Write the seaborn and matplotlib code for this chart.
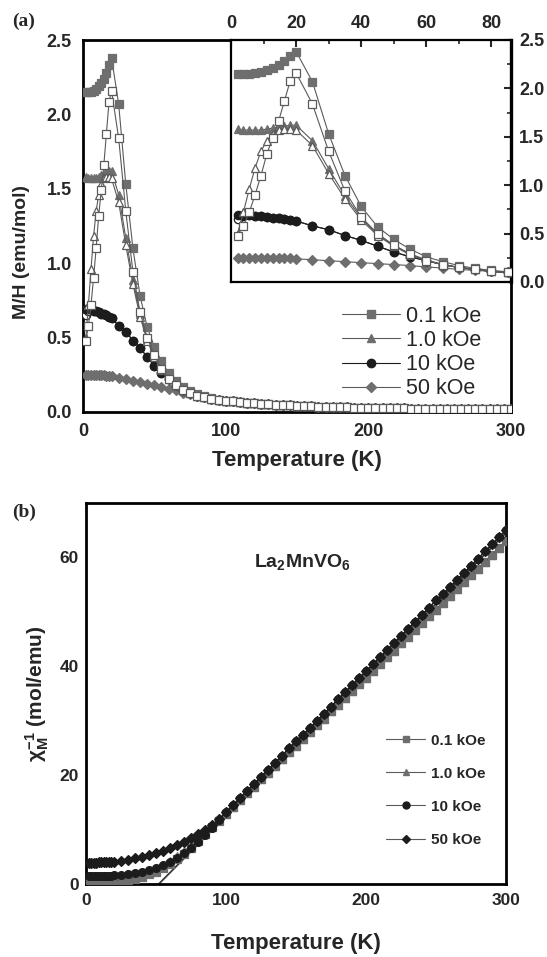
import matplotlib
matplotlib.use("Agg")
import matplotlib.pyplot as plt
from matplotlib.lines import Line2D
from matplotlib.ticker import MultipleLocator
import seaborn as sns

# ---------------- data ----------------
T_low = [2, 3.8, 5.6, 7.4, 9.2, 11, 12.8, 14.6, 16.4, 18.2, 20]
T_mid = [25, 30, 35, 40, 45, 50, 55, 60, 65, 70, 75, 80, 85, 90, 95]
T_high = [100, 105, 110, 115, 120, 125, 130, 135, 140, 145, 150, 155, 160, 165, 170,
          175, 180, 185, 190, 195, 200, 205, 210, 215, 220, 225, 230, 235, 240, 245,
          250, 255, 260, 265, 270, 275, 280, 285, 290, 295, 300]

# panel (a): M/H (emu/mol)
fc01_low = [2.15, 2.15, 2.15, 2.16, 2.17, 2.19, 2.21, 2.24, 2.28, 2.33, 2.38]
fc01_mid = [2.07, 1.53, 1.10, 0.78, 0.57, 0.44, 0.34, 0.26, 0.21, 0.17, 0.14, 0.12, 0.105, 0.092, 0.084]
zfc01_low = [0.48, 0.58, 0.72, 0.90, 1.10, 1.32, 1.49, 1.66, 1.87, 2.08, 2.16]
zfc01_mid = [1.84, 1.35, 0.94, 0.67, 0.50, 0.38, 0.29, 0.22, 0.18, 0.15, 0.13, 0.11, 0.10, 0.090, 0.083]
fc1_low = [1.58, 1.57, 1.57, 1.57, 1.57, 1.58, 1.59, 1.60, 1.61, 1.62, 1.62]
fc1_mid = [1.46, 1.17, 0.89, 0.66, 0.49, 0.38, 0.29, 0.23, 0.18, 0.15, 0.13, 0.11, 0.10, 0.090, 0.083]
zfc1_low = [0.50, 0.72, 0.96, 1.18, 1.35, 1.46, 1.53, 1.57, 1.58, 1.58, 1.57]
zfc1_mid = [1.41, 1.12, 0.86, 0.64, 0.48, 0.37, 0.28, 0.22, 0.18, 0.15, 0.13, 0.11, 0.10, 0.090, 0.083]
fc10_low = [0.69, 0.69, 0.69, 0.68, 0.68, 0.67, 0.66, 0.66, 0.65, 0.64, 0.63]
zfc10_low = [0.65, 0.68, 0.69, 0.68, 0.68, 0.67, 0.66, 0.66, 0.65, 0.64, 0.63]
fc10_mid = [0.58, 0.54, 0.48, 0.43, 0.37, 0.31, 0.26, 0.22, 0.18, 0.15, 0.13, 0.11, 0.10, 0.090, 0.083]
fc50_low = [0.25, 0.25, 0.25, 0.25, 0.25, 0.25, 0.25, 0.25, 0.245, 0.245, 0.24]
fc50_mid = [0.23, 0.22, 0.21, 0.20, 0.19, 0.18, 0.17, 0.155, 0.145, 0.13, 0.12, 0.11, 0.10, 0.090, 0.083]
mh_high = [0.077, 0.071, 0.066, 0.062, 0.058, 0.055, 0.052, 0.049, 0.046, 0.044, 0.042,
           0.040, 0.038, 0.036, 0.035, 0.033, 0.032, 0.031, 0.030, 0.029, 0.028, 0.027,
           0.026, 0.025, 0.025, 0.024, 0.023, 0.023, 0.022, 0.021, 0.021, 0.020, 0.020,
           0.019, 0.019, 0.018, 0.018, 0.018, 0.017, 0.017, 0.017]

# panel (b): inverse susceptibility (mol/emu)
inv01_low = [0.47, 0.47, 0.47, 0.46, 0.46, 0.46, 0.45, 0.45, 0.44, 0.43, 0.42]
inv01_mid = [0.48, 0.65, 0.91, 1.28, 1.75, 2.27, 2.94, 3.7, 4.6, 5.6, 6.7, 7.9, 9.1, 10.4, 11.6]
inv1_low = [0.63, 0.64, 0.64, 0.64, 0.64, 0.63, 0.63, 0.63, 0.62, 0.62, 0.62]
inv1_mid = [0.68, 0.85, 1.12, 1.52, 2.04, 2.63, 3.4, 4.2, 5.1, 6.1, 7.1, 8.2, 9.3, 10.5, 11.7]
inv10_low = [1.45, 1.45, 1.45, 1.46, 1.47, 1.48, 1.50, 1.52, 1.54, 1.56, 1.59]
inv10_mid = [1.65, 1.8, 2.0, 2.25, 2.6, 3.0, 3.5, 4.1, 4.8, 5.7, 6.7, 7.8, 9.0, 10.3, 11.7]
inv50_low = [3.95, 3.95, 3.95, 3.95, 3.96, 3.97, 3.98, 4.0, 4.02, 4.05, 4.1]
inv50_mid = [4.2, 4.4, 4.7, 5.0, 5.3, 5.7, 6.1, 6.6, 7.1, 7.7, 8.4, 9.1, 9.9, 10.9, 12.0]
inv_low_field_high = [12.9, 14.2, 15.4, 16.7, 17.9, 19.2, 20.4, 21.7, 22.9, 24.2,
                      25.4, 26.7, 27.9, 29.2, 30.4, 31.7, 32.9, 34.2, 35.4, 36.7,
                      37.9, 39.2, 40.4, 41.7, 42.9, 44.2, 45.4, 46.7, 47.9, 49.2,
                      50.4, 51.7, 52.9, 54.2, 55.4, 56.7, 57.9, 59.2, 60.4, 61.7, 63.0]
inv_high_field_high = [13.2, 14.5, 15.8, 17.1, 18.4, 19.7, 21.0, 22.3, 23.6, 24.9,
                       26.2, 27.4, 28.7, 30.0, 31.3, 32.6, 33.9, 35.2, 36.5, 37.8,
                       39.1, 40.4, 41.7, 43.0, 44.3, 45.6, 46.9, 48.2, 49.5, 50.8,
                       52.1, 53.3, 54.6, 55.9, 57.2, 58.5, 59.8, 61.1, 62.4, 63.7, 65.0]
fit_T = [52, 300]
fit_inv = [0.0, 64.5]

fields = ["0.1 kOe", "1.0 kOe", "10 kOe", "50 kOe"]
x_ticks_a = [0, 100, 200, 300]
y_ticks_a = [0.0, 0.5, 1.0, 1.5, 2.0, 2.5]
x_ticks_in = [0, 20, 40, 60, 80]
y_ticks_b = [0, 20, 40, 60]

T_all = T_low + T_mid + T_high

# ---------------- style ----------------
sns.set_style("white")
plt.rcParams["font.family"] = ["Liberation Sans", "DejaVu Sans"]
plt.rcParams["font.weight"] = "bold"
plt.rcParams["axes.labelweight"] = "bold"
plt.rcParams["mathtext.fontset"] = "custom"
plt.rcParams["mathtext.rm"] = "Liberation Sans:bold"
plt.rcParams["mathtext.it"] = "Liberation Sans:bold"
plt.rcParams["mathtext.bf"] = "Liberation Sans:bold"

GRAY = "#6e6e6e"
DARK = "#1c1c1c"
LINE = "#5a5a5a"

W, H = 547, 957
fig = plt.figure(figsize=(W / 100, H / 100), dpi=100)


def rect(x0, y0, x1, y1):
    return [x0 / W, 1 - y1 / H, (x1 - x0) / W, (y1 - y0) / H]


ax_a = fig.add_axes(rect(83, 40, 511, 412))
ax_in = fig.add_axes(rect(231, 40, 511, 282))
ax_b = fig.add_axes(rect(86, 503, 506, 884))


def draw(ax, T, y, marker, face, edge, lcolor, ms, z, lw=0.8):
    sns.lineplot(x=T, y=y, ax=ax, marker=marker, color=lcolor, linewidth=lw,
                 markerfacecolor=face, markeredgecolor=edge, markersize=ms,
                 markeredgewidth=0.9, estimator=None, sort=False, legend=False,
                 zorder=z)


def panel_a_series(ax, ms):
    draw(ax, T_all, fc50_low + fc50_mid + mh_high, "D", GRAY, GRAY, LINE, ms * 0.85, 3)
    draw(ax, T_all, zfc10_low + fc10_mid + mh_high, "o", "white", DARK, DARK, ms, 3)
    draw(ax, T_all, fc10_low + fc10_mid + mh_high, "o", DARK, DARK, DARK, ms, 4)
    draw(ax, T_all, fc1_low + fc1_mid + mh_high, "^", GRAY, GRAY, LINE, ms, 5)
    draw(ax, T_all, fc01_low + fc01_mid + mh_high, "s", GRAY, GRAY, LINE, ms, 6)
    draw(ax, T_all, zfc1_low + zfc1_mid + mh_high, "^", "white", LINE, LINE, ms, 7)
    draw(ax, T_all, zfc01_low + zfc01_mid + mh_high, "s", "white", LINE, LINE, ms, 8)


# ---------------- panel (a) main ----------------
panel_a_series(ax_a, 6)
ax_a.set_xlim(0, 300)
ax_a.set_ylim(0, 2.5)
ax_a.set_xticks(x_ticks_a)
ax_a.set_yticks(y_ticks_a)
ax_a.set_yticklabels([f"{v:.1f}" for v in y_ticks_a])
ax_a.xaxis.set_minor_locator(MultipleLocator(50))
ax_a.yaxis.set_minor_locator(MultipleLocator(0.25))
ax_a.tick_params(which="major", direction="out", length=6, width=1.8, labelsize=13, pad=2)
ax_a.tick_params(which="minor", direction="out", length=4, width=1.5)
for s in ax_a.spines.values():
    s.set_linewidth(2.0)
    s.set_color("black")
ax_a.set_xlabel("Temperature (K)", fontsize=16, labelpad=7)
ax_a.set_ylabel("M/H (emu/mol)", fontsize=14, labelpad=4)
ax_a.yaxis.set_label_coords(-0.125, 0.43)

handles_a = [
    Line2D([], [], color=LINE, lw=0.8, marker="s", mfc=GRAY, mec=GRAY, ms=6),
    Line2D([], [], color=LINE, lw=0.8, marker="^", mfc=GRAY, mec=GRAY, ms=6),
    Line2D([], [], color=DARK, lw=0.8, marker="o", mfc=DARK, mec=DARK, ms=6),
    Line2D([], [], color=LINE, lw=0.8, marker="D", mfc=GRAY, mec=GRAY, ms=5),
]
ax_a.legend(handles_a, fields, loc="upper left", bbox_to_anchor=(331 / W, 1 - 295 / H),
            bbox_transform=fig.transFigure, frameon=False, borderpad=0,
            handlelength=2.7, handletextpad=0.3, labelspacing=0.15,
            prop={"family": "Liberation Sans", "weight": "normal", "size": 15.5})

# ---------------- inset ----------------
ax_in.set_facecolor("white")
panel_a_series(ax_in, 6)
ax_in.set_xlim(0, 86)
ax_in.set_ylim(0, 2.5)
ax_in.set_xticks(x_ticks_in)
ax_in.set_yticks(y_ticks_a)
ax_in.set_yticklabels([f"{v:.1f}" for v in y_ticks_a])
ax_in.xaxis.set_minor_locator(MultipleLocator(10))
ax_in.yaxis.set_minor_locator(MultipleLocator(0.25))
ax_in.xaxis.tick_top()
ax_in.yaxis.tick_right()
ax_in.tick_params(which="both", direction="in", top=True, right=True, bottom=False, left=False,
                  labeltop=True, labelright=True, labelbottom=False, labelleft=False)
ax_in.tick_params(which="major", length=5, width=1.5, labelsize=13, pad=6)
ax_in.tick_params(which="minor", length=3, width=1.2)
ax_in.set_xlabel("")
ax_in.set_ylabel("")
for k, s in ax_in.spines.items():
    s.set_linewidth(1.6)
    s.set_color("black")
ax_in.spines["right"].set_linewidth(2.4)

# ---------------- panel (b) ----------------
draw(ax_b, fit_T, fit_inv, None, None, None, "#3a3a3a", 0, 2, lw=1.3)
draw(ax_b, T_all, inv01_low + inv01_mid + inv_low_field_high, "s", GRAY, GRAY, LINE, 5.6, 3)
draw(ax_b, T_all, inv1_low + inv1_mid + inv_low_field_high, "^", GRAY, GRAY, LINE, 5.6, 4)
draw(ax_b, T_all, inv10_low + inv10_mid + inv_high_field_high, "o", DARK, DARK, DARK, 5.6, 5)
draw(ax_b, T_all, inv50_low + inv50_mid + inv_high_field_high, "D", DARK, DARK, DARK, 4.7, 6)
ax_b.set_xlim(0, 300)
ax_b.set_ylim(0, 70)
ax_b.set_xticks(x_ticks_a)
ax_b.set_yticks(y_ticks_b)
ax_b.xaxis.set_minor_locator(MultipleLocator(50))
ax_b.yaxis.set_minor_locator(MultipleLocator(10))
ax_b.tick_params(axis="x", which="major", direction="inout", length=9, width=1.8, labelsize=12.5, pad=2)
ax_b.tick_params(axis="x", which="minor", direction="in", length=4, width=1.5)
ax_b.tick_params(axis="y", which="major", direction="in", length=6, width=1.8, labelsize=12.5, pad=5)
ax_b.tick_params(axis="y", which="minor", direction="in", length=4, width=1.5)
for s in ax_b.spines.values():
    s.set_linewidth(2.0)
    s.set_color("black")
ax_b.set_xlabel("Temperature (K)", fontsize=16, labelpad=18)
ax_b.set_ylabel(r"$\chi_{M}^{-1}$ (mol/emu)", fontsize=15, labelpad=6)
ax_b.text(0.514, 0.845, r"La$_2$MnVO$_6$", transform=ax_b.transAxes, ha="center", va="center",
          fontsize=14, fontweight="bold")

handles_b = [
    Line2D([], [], color=LINE, lw=0.8, marker="s", mfc=GRAY, mec=GRAY, ms=5),
    Line2D([], [], color=LINE, lw=0.8, marker="^", mfc=GRAY, mec=GRAY, ms=5),
    Line2D([], [], color=LINE, lw=0.8, marker="o", mfc=DARK, mec=DARK, ms=5),
    Line2D([], [], color=LINE, lw=0.8, marker="D", mfc=DARK, mec=DARK, ms=4.2),
]
ax_b.legend(handles_b, fields, loc="upper left", bbox_to_anchor=(378 / W, 1 - 726 / H),
            bbox_transform=fig.transFigure, frameon=False, borderpad=0,
            handlelength=2.6, handletextpad=0.4, labelspacing=1.25,
            prop={"family": "Liberation Sans", "weight": "bold", "size": 11})

fig.text(12 / W, 1 - 21 / H, "(a)", family=["Liberation Serif", "DejaVu Serif"], fontsize=14,
         fontweight="bold", va="center", ha="left")
fig.text(12 / W, 1 - 512 / H, "(b)", family=["Liberation Serif", "DejaVu Serif"], fontsize=14,
         fontweight="bold", va="center", ha="left")

fig.savefig("out.png", dpi=100)
